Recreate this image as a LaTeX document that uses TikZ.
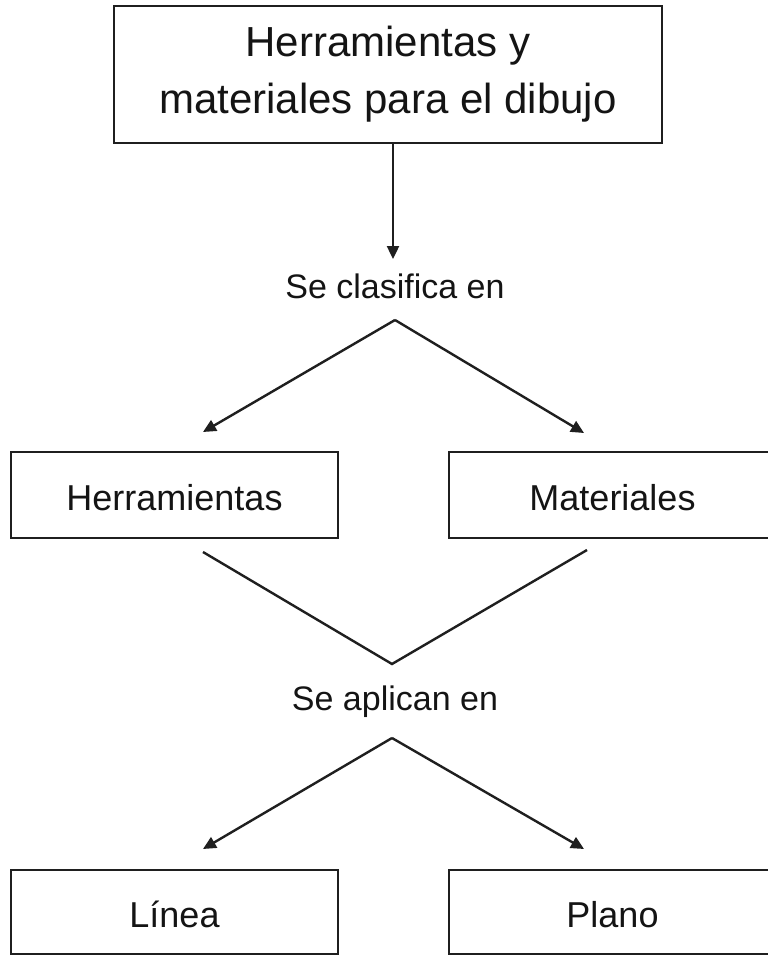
\documentclass[tikz,border=0pt]{standalone}
\usepackage{fontspec}
\setmainfont{Liberation Sans}
\usetikzlibrary{arrows.meta}
\begin{document}
\begin{tikzpicture}[x=1pt,y=-1pt,
  box/.style={draw=black!88, line width=2.6pt, inner sep=0pt,
    minimum width=327pt, minimum height=86pt, text=black!92,
    text height=30pt, text depth=0pt, font=\fontsize{36}{43}\selectfont},
  topbox/.style={draw=black!88, line width=2.6pt, inner sep=0pt,
    minimum width=548pt, minimum height=137pt, text=black!92, align=center,
    font=\fontsize{42}{57}\selectfont},
  lbl/.style={font=\fontsize{34}{40}\selectfont, anchor=base, inner sep=0pt, text=black!92},
  conn/.style={draw=black!88, line width=2.4pt},
  arr/.style={conn, -{Triangle[length=13pt,width=12pt]}}]
\useasboundingbox (0,0) rectangle (768,956);
\clip (0,0) rectangle (768,956);
\fill[white] (0,0) rectangle (768,956);

\node[topbox] (top) at (388,74.5) {Herramientas y\\materiales para el dibujo};
\node[lbl] (clas) at (395,298) {Se clasifica en};
\node[box] (herr) at (174.5,495) {Herramientas};
\node[box] (mat) at (612.5,495) {Materiales};
\node[lbl] (apl) at (395,710) {Se aplican en};
\node[box, minimum height=84pt] (lin) at (174.5,912) {Línea};
\node[box, minimum height=84pt] (plano) at (612.5,912) {Plano};

\coordinate (t0) at (393,259);
\coordinate (a1) at (395,320);
\coordinate (tl1) at (203,432);
\coordinate (tr1) at (584,433);
\coordinate (vl) at (203,552);
\coordinate (vb) at (392,664);
\coordinate (vr) at (587,550);
\coordinate (a2) at (392,738);
\coordinate (tl2) at (203,849);
\coordinate (tr2) at (584,849);

\draw[arr] (top.south -| t0) -- (t0);
\draw[arr] (a1) -- (tl1);
\draw[arr] (a1) -- (tr1);
\draw[conn, line join=miter] (vl) -- (vb) -- (vr);
\draw[arr] (a2) -- (tl2);
\draw[arr] (a2) -- (tr2);
\end{tikzpicture}
\end{document}
